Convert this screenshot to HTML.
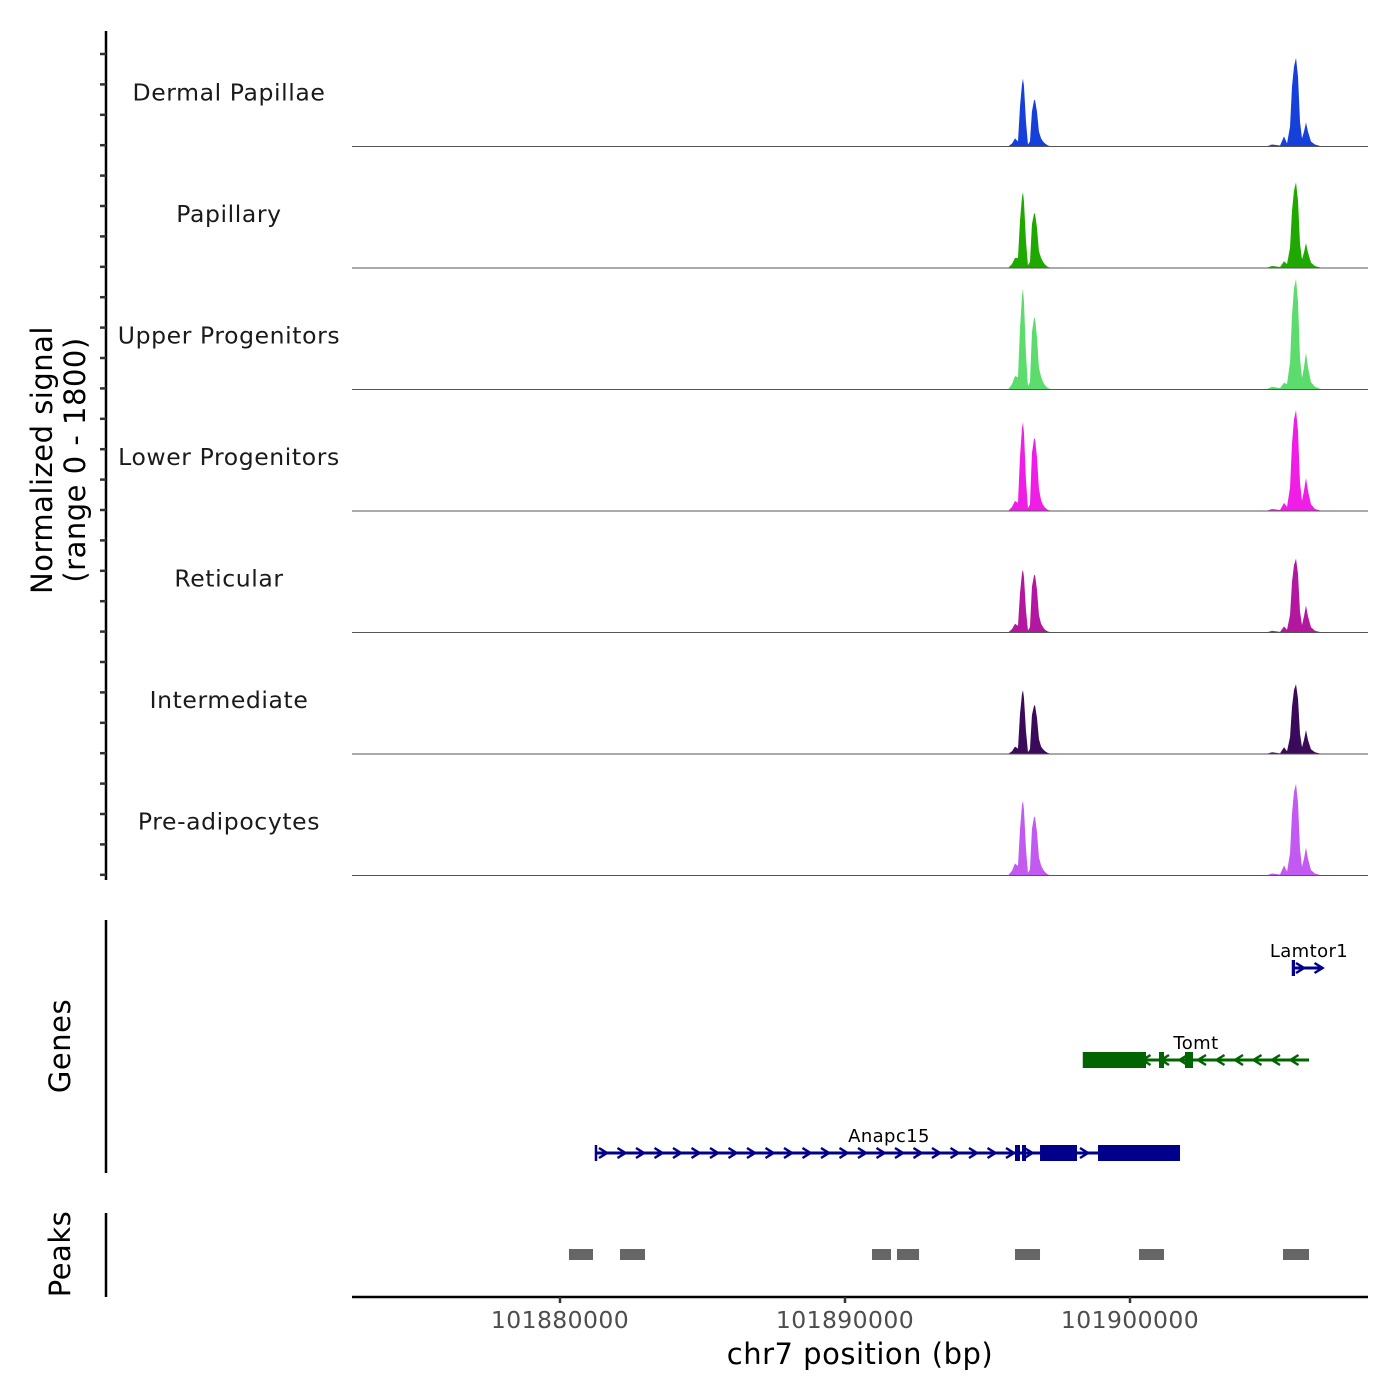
<!DOCTYPE html>
<html><head><meta charset="utf-8"><style>
html,body{margin:0;padding:0;background:#fff;}
svg{display:block;font-family:"DejaVu Sans","Liberation Sans",sans-serif;}
</style></head><body>
<svg id="chart" width="1400" height="1400" viewBox="0 0 1400 1400" xmlns="http://www.w3.org/2000/svg">
<g id="tracks"></g>
<g id="genes"></g>
<g id="peaks"></g>
<g id="axes"></g>
</svg>
<script>
const trackNames = ["Dermal Papillae","Papillary","Upper Progenitors","Lower Progenitors","Reticular","Intermediate","Pre-adipocytes"];
const trackColors = ["#1540da","#1fa800","#5cdc6c","#ef1de6","#b3179f","#3a0b5a","#c25af2"];
const positions = [101895720,101895860,101895965,101896070,101896140,101896210,101896245,101896280,101896350,101896420,101896490,101896560,101896630,101896665,101896735,101896805,101896880,101896950,101897020,101897120,101897265,
101904770,101904985,101905265,101905405,101905510,101905615,101905685,101905755,101905825,101905895,101905965,101906035,101906105,101906175,101906245,101906350,101906490,101906735];
const sigDermal = [0,45,120,75,590,920,1005,890,370,30,75,520,680,695,520,220,120,75,45,15,0, 0,30,15,150,45,295,890,1185,1315,1035,370,120,220,355,220,75,30,0];
const sigPapillary = [0,60,150,150,700,1050,1125,980,400,40,90,650,800,815,600,250,150,90,50,15,0, 0,30,15,100,60,300,850,1150,1270,1000,360,130,230,370,230,80,30,0];
const sigUpper = [0,80,200,180,900,1380,1495,1300,520,50,110,850,1050,1065,780,320,190,110,60,20,0, 0,40,20,100,80,400,1100,1500,1640,1300,470,170,330,545,330,110,40,0];
const sigLower = [0,60,150,120,800,1220,1320,1150,460,40,100,860,1060,1080,800,330,160,90,50,15,0, 0,30,15,120,60,350,1000,1360,1495,1180,420,150,300,490,300,100,30,0];
const sigReticular = [0,50,130,100,580,880,930,820,330,30,80,680,840,860,640,260,130,80,40,15,0, 0,25,10,90,40,260,750,1000,1095,870,310,110,240,400,240,80,25,0];
const sigIntermediate = [0,40,110,80,590,890,945,830,340,30,70,580,710,725,540,220,110,70,40,15,0, 0,25,10,100,40,250,700,950,1035,820,300,100,210,355,210,70,25,0];
const sigPreadipo = [0,70,180,140,680,1040,1110,970,400,40,90,690,860,875,650,270,150,90,50,15,0, 0,30,15,150,60,330,920,1240,1360,1080,390,130,250,415,250,80,30,0];
const signals = [sigDermal,sigPapillary,sigUpper,sigLower,sigReticular,sigIntermediate,sigPreadipo];
const peakStarts = [101880316,101882106,101890948,101891825,101895965,101900316,101905369];
const peakEnds   = [101881158,101882983,101891614,101892597,101896843,101901193,101906281];
const xTicks = [101880000,101890000,101900000];
const xTickLabels = ["101880000","101890000","101900000"];
const genes = ["Lamtor1","Tomt","Anapc15"];
const geneStart = [101905685,101898351,101881228];
const geneEnd = [101906772,101906281,101901755];
const geneStrand = [1,-1,1];
const geneColor = ["#00008b","#006400","#00008b"];
const geneExons = [
 [[101905685,101905780]],
 [[101898351,101900562],[101901018,101901193],[101901930,101902211]],
 [[101895965,101896141],[101896211,101896351],[101896843,101898141],[101898878,101901755]]
];
const yMax = 1800;

const NS="http://www.w3.org/2000/svg";
const X0=352,X1=1368,BP0=101872702,BP1=101908351;
const xs=bp=>X0+(bp-BP0)/(BP1-BP0)*(X1-X0);
const TH=121.5, TOP=25;
function mk(tag,attrs,parent,text){const e=document.createElementNS(NS,tag);for(const k in attrs)e.setAttribute(k,attrs[k]);if(text!=null)e.textContent=text;parent.appendChild(e);return e;}

const gT=document.getElementById('tracks');
signals.forEach((sig,i)=>{
  const base=TOP+TH*(i+1);
  const ys=v=>base-v/yMax*TH;
  let d=`M${X0},${base}`;
  positions.forEach((p,j)=>{d+=` L${xs(p).toFixed(2)},${ys(sig[j]).toFixed(2)}`;});
  d+=` L${X1},${base} Z`;
  const a=mk('path',{d:d,fill:trackColors[i]},gT);
  
  
  const l=mk('line',{x1:X0,x2:X1,y1:base,y2:base,stroke:'#555','stroke-width':1},gT);
  
  
  const t=mk('text',{x:229,y:base-46,'text-anchor':'middle','font-size':23.5,'letter-spacing':0.6,fill:'#1a1a1a'},gT,trackNames[i]);
  
  
});

const gA=document.getElementById('axes');
let e=mk('line',{x1:106,x2:106,y1:31,y2:880,stroke:'#000','stroke-width':2.5},gA);

for(let k=0;k<28;k++){const y=54+k*30.4;if(y>880)break;
  const t=mk('line',{x1:100,x2:106,y1:y,y2:y,stroke:'#333','stroke-width':2.5},gA);
  }
e=mk('text',{transform:'translate(52,460) rotate(-90)','text-anchor':'middle','font-size':29,'letter-spacing':0.5,fill:'#000'},gA,'Normalized signal');

e=mk('text',{transform:'translate(85,460) rotate(-90)','text-anchor':'middle','font-size':29,'letter-spacing':0.5,fill:'#000'},gA,'(range 0 - 1800)');

e=mk('line',{x1:106,x2:106,y1:920,y2:1173,stroke:'#000','stroke-width':2.5},gA);

e=mk('text',{transform:'translate(70,1046) rotate(-90)','text-anchor':'middle','font-size':29,'letter-spacing':0.5,fill:'#000'},gA,'Genes');

e=mk('line',{x1:106,x2:106,y1:1213,y2:1297,stroke:'#000','stroke-width':2.5},gA);

e=mk('text',{transform:'translate(70,1254) rotate(-90)','text-anchor':'middle','font-size':29,'letter-spacing':0.5,fill:'#000'},gA,'Peaks');

e=mk('line',{x1:X0,x2:X1,y1:1297,y2:1297,stroke:'#000','stroke-width':2.5},gA);

xTicks.forEach((b,i)=>{const x=xs(b);
  const t=mk('line',{x1:x,x2:x,y1:1297,y2:1303,stroke:'#333','stroke-width':2.5},gA);
  
  const l=mk('text',{x:x,y:1328,'text-anchor':'middle','font-size':23.5,'letter-spacing':0.4,fill:'#4d4d4d'},gA,xTickLabels[i]);
  });
e=mk('text',{x:860,y:1364,'text-anchor':'middle','font-size':29,'letter-spacing':0.5,fill:'#000'},gA,'chr7 position (bp)');


const gP=document.getElementById('peaks');
peakStarts.forEach((s,i)=>{const r=mk('rect',{x:xs(s),y:1249,width:xs(peakEnds[i])-xs(s),height:11,fill:'#666'},gP);
  });

const gG=document.getElementById('genes');
const geneY=[968,1060,1153];
genes.forEach((g,i)=>{const y=geneY[i],c=geneColor[i];
  const x0=xs(geneStart[i]),x1=xs(geneEnd[i]);
  const grp=mk('g',{},gG);
  
  
  mk('line',{x1:x0,x2:x1,y1:y,y2:y,stroke:c,'stroke-width':3},grp);
  mk('line',{x1:x0+1,x2:x0+1,y1:y-8,y2:y+8,stroke:c,'stroke-width':2.5},grp);
  for(let x=x0+8;x<x1-4;x+=18.5){const dx=geneStrand[i]*4;
    mk('polyline',{points:`${x-dx},${y-5} ${x+dx},${y} ${x-dx},${y+5}`,fill:'none',stroke:c,'stroke-width':2.5},grp);}
  geneExons[i].forEach(ex=>{mk('rect',{x:xs(ex[0]),y:y-8,width:Math.max(3,xs(ex[1])-xs(ex[0])),height:16,fill:c},grp);});
  const lx=i==0?1309:(i==1?1196:889);
  const t=mk('text',{x:lx,y:y-11,'text-anchor':'middle','font-size':18,'letter-spacing':0.4,fill:'#000'},grp,g);
  
});
</script>
</body></html>
